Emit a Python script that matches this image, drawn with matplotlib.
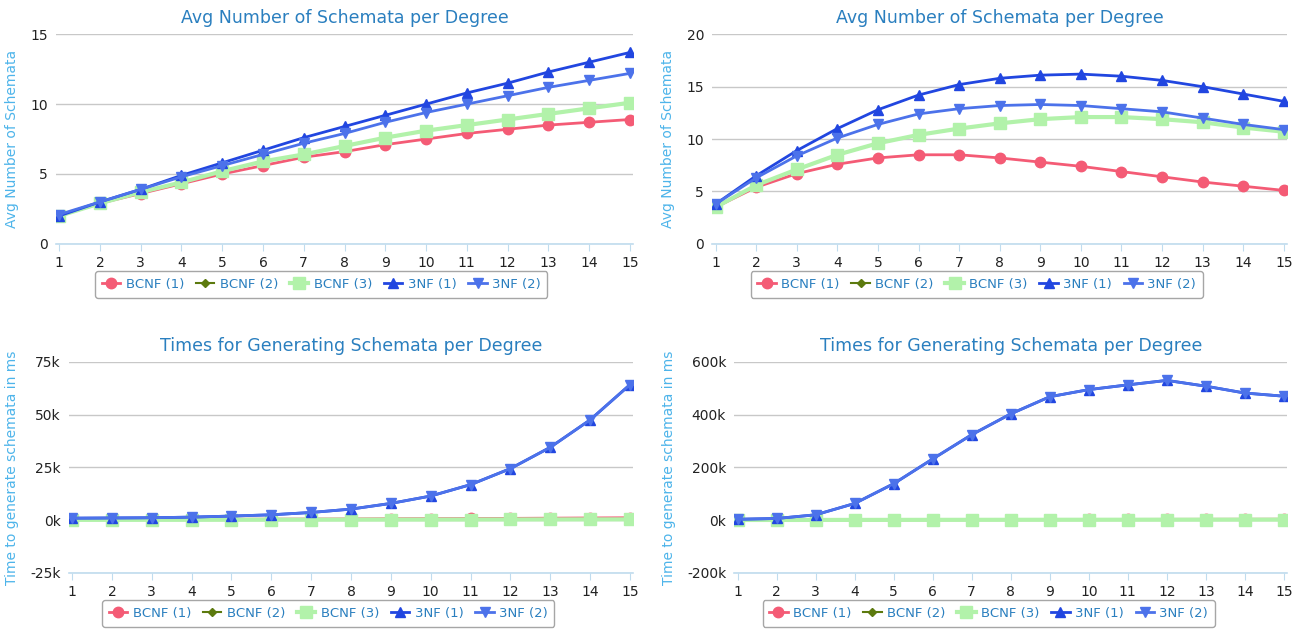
import matplotlib
matplotlib.use("Agg")
import matplotlib.pyplot as plt
from matplotlib.ticker import FuncFormatter

degrees = list(range(1, 16))
series_names = ["BCNF (1)", "BCNF (2)", "BCNF (3)", "3NF (1)", "3NF (2)"]

# top left: avg number of schemata
avg_left = {
    "BCNF (1)": [2.0, 2.9, 3.6, 4.3, 5.0, 5.6, 6.2, 6.6, 7.1, 7.5, 7.9, 8.2, 8.5, 8.7, 8.9],
    "BCNF (2)": [2.0, 2.9, 3.7, 4.4, 5.2, 5.9, 6.4, 7.0, 7.6, 8.1, 8.5, 8.9, 9.3, 9.7, 10.1],
    "BCNF (3)": [2.0, 2.9, 3.7, 4.4, 5.2, 5.9, 6.4, 7.0, 7.6, 8.1, 8.5, 8.9, 9.3, 9.7, 10.1],
    "3NF (1)": [2.0, 3.0, 3.9, 4.9, 5.8, 6.7, 7.6, 8.4, 9.2, 10.0, 10.8, 11.5, 12.3, 13.0, 13.7],
    "3NF (2)": [2.1, 3.0, 3.9, 4.8, 5.6, 6.4, 7.2, 7.9, 8.7, 9.4, 10.0, 10.6, 11.2, 11.7, 12.2],
}

# top right: avg number of schemata
avg_right = {
    "BCNF (1)": [3.5, 5.4, 6.7, 7.6, 8.2, 8.5, 8.5, 8.2, 7.8, 7.4, 6.9, 6.4, 5.9, 5.5, 5.1],
    "BCNF (2)": [3.5, 5.6, 7.1, 8.5, 9.6, 10.4, 11.0, 11.5, 11.9, 12.1, 12.1, 11.9, 11.6, 11.1, 10.7],
    "BCNF (3)": [3.5, 5.6, 7.1, 8.5, 9.6, 10.4, 11.0, 11.5, 11.9, 12.1, 12.1, 11.9, 11.6, 11.1, 10.7],
    "3NF (1)": [3.8, 6.5, 8.9, 11.0, 12.8, 14.2, 15.2, 15.8, 16.1, 16.2, 16.0, 15.6, 15.0, 14.3, 13.6],
    "3NF (2)": [3.8, 6.3, 8.4, 10.1, 11.4, 12.4, 12.9, 13.2, 13.3, 13.2, 12.9, 12.6, 12.0, 11.4, 10.9],
}

# bottom left: time in ms
time_left = {
    "BCNF (1)": [200, 250, 300, 350, 400, 450, 500, 550, 650, 700, 750, 800, 900, 1000, 1100],
    "BCNF (2)": [100, 100, 120, 130, 150, 160, 180, 200, 220, 240, 260, 280, 300, 320, 340],
    "BCNF (3)": [100, 100, 120, 130, 150, 160, 180, 200, 220, 240, 260, 280, 300, 320, 340],
    "3NF (1)": [900, 1000, 1100, 1400, 1900, 2500, 3600, 5200, 7900, 11400, 16800, 24400, 34500, 47500, 64200],
    "3NF (2)": [900, 1000, 1100, 1400, 1900, 2500, 3600, 5200, 7900, 11400, 16800, 24400, 34500, 47500, 64200],
}

# bottom right: time in ms
time_right = {
    "BCNF (1)": [500, 700, 900, 1100, 1300, 1500, 1700, 1900, 2100, 2300, 2500, 2700, 2900, 3100, 3300],
    "BCNF (2)": [300, 400, 500, 600, 700, 800, 900, 1000, 1100, 1200, 1300, 1400, 1500, 1600, 1700],
    "BCNF (3)": [300, 400, 500, 600, 700, 800, 900, 1000, 1100, 1200, 1300, 1400, 1500, 1600, 1700],
    "3NF (1)": [3000, 6000, 20000, 63000, 138000, 232000, 324000, 403000, 468000, 495000, 513000, 530000, 508000, 482000, 470000],
    "3NF (2)": [3000, 6000, 20000, 63000, 138000, 232000, 324000, 403000, 468000, 495000, 513000, 530000, 508000, 482000, 470000],
}

styles = {
    "BCNF (1)": dict(color="#F45B75", marker="o", ms=7.5, lw=2),
    "BCNF (2)": dict(color="#5C7A0E", marker="D", ms=4, lw=1.5),
    "BCNF (3)": dict(color="#B2F2AA", marker="s", ms=8, lw=3),
    "3NF (1)": dict(color="#2146E0", marker="^", ms=7.5, lw=2),
    "3NF (2)": dict(color="#4C72EA", marker="v", ms=7.5, lw=2),
}

title_color = "#2A7FBF"
label_color = "#4DB4EA"
legend_text = "#2A7FBF"
grid_color = "#C8C8C8"
axis_color = "#C0DCEE"

fig = plt.figure(figsize=(13, 6.35), dpi=100)

panels = [
    ([0.043, 0.616, 0.444, 0.330], avg_left, (0, 15), [0, 5, 10, 15],
     "Avg Number of Schemata per Degree", "Avg Number of Schemata", False),
    ([0.548, 0.616, 0.442, 0.330], avg_right, (0, 20), [0, 5, 10, 15, 20],
     "Avg Number of Schemata per Degree", "Avg Number of Schemata", False),
    ([0.053, 0.098, 0.434, 0.332], time_left, (-25000, 75000), [-25000, 0, 25000, 50000, 75000],
     "Times for Generating Schemata per Degree", "Time to generate schemata in ms", True),
    ([0.565, 0.098, 0.425, 0.332], time_right, (-200000, 600000), [-200000, 0, 200000, 400000, 600000],
     "Times for Generating Schemata per Degree", "Time to generate schemata in ms", True),
]

for rect, data, ylim, yticks, title, ylabel, kfmt in panels:
    ax = fig.add_axes(rect)
    for name in series_names:
        st = styles[name]
        ax.plot(degrees, data[name], color=st["color"], marker=st["marker"],
                markersize=st["ms"], linewidth=st["lw"], label=name)
    ax.set_xlim(0.92, 15.08)
    ax.set_ylim(*ylim)
    ax.set_yticks(yticks)
    ax.set_xticks(degrees)
    if kfmt:
        ax.yaxis.set_major_formatter(FuncFormatter(lambda v, p: "%dk" % round(v / 1000)))
    ax.grid(axis="y", color=grid_color, linewidth=1)
    ax.set_axisbelow(True)
    for s in ["top", "right", "left"]:
        ax.spines[s].set_visible(False)
    ax.spines["bottom"].set_color(axis_color)
    ax.spines["bottom"].set_linewidth(1.2)
    ax.tick_params(axis="y", length=0, labelsize=10, colors="#222222", pad=6)
    ax.tick_params(axis="x", length=5, color=axis_color, labelsize=10,
                   labelcolor="#222222")
    ax.set_title(title, color=title_color, fontsize=12.5, pad=8)
    ax.set_ylabel(ylabel, color=label_color, fontsize=10, labelpad=8)
    leg = ax.legend(loc="upper center", bbox_to_anchor=(0.46, -0.1), ncol=5,
                    fontsize=9.5, frameon=True, fancybox=True, handlelength=1.4,
                    handletextpad=0.4, columnspacing=0.9, borderpad=0.5)
    leg.get_frame().set_edgecolor("#909090")
    leg.get_frame().set_linewidth(1)
    for t in leg.get_texts():
        t.set_color(legend_text)

fig.savefig("out.png", dpi=100)
